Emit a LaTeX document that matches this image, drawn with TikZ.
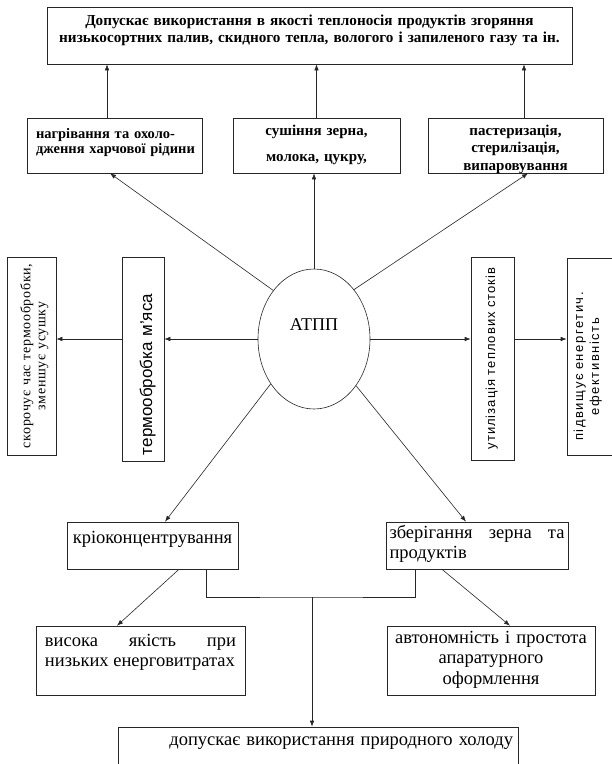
\documentclass[tikz,border=0pt]{standalone}
\usepackage{fontspec}
\setmainfont{Liberation Serif}
\setsansfont{Liberation Sans}
\usetikzlibrary{shapes.geometric, positioning, arrows.meta}

\begin{document}
\begin{tikzpicture}
	[x=1pt, y=-1pt, line width=0.6pt, >={Latex[length=6pt,width=4.5pt]},
	 box/.style={draw=black!85, rectangle, inner sep=0pt},
	 bbox/.style={box, font=\bfseries\fontsize{15}{15}\selectfont},
	 rbox/.style={box, font=\fontsize{18.5}{20}\selectfont},
	 vbox/.style={box, rotate=90},
	 link/.style={->, color=black!85}]
   \useasboundingbox (0,0) rectangle (612,764);
   % top row
   \node[bbox, minimum width=525pt, minimum height=57pt, text width=520pt, align=center,
         font=\bfseries\fontsize{15.2}{17.7}\selectfont, text height=12pt, text depth=33pt] (use) at (309.5,35.5)
         {Допускає використання в якості теплоносія продуктів згоряння\\\mbox{низькосортних палив, скидного тепла, вологого і запиленого газу та ін.}};
   \node[bbox, minimum width=175pt, minimum height=55pt, text width=157pt, inner xsep=9pt, align=left,
         font=\bfseries\fontsize{14.5}{15}\selectfont, text height=12pt, text depth=26.4pt] (heat) at (114.5,145.5)
         {нагрівання та охоло-\\\mbox{дження харчової рідини}};
   \node[bbox, minimum width=167pt, minimum height=55pt, text width=150pt, align=center,
         text height=12pt, text depth=33pt] (dry) at (316.5,145.5) {сушіння зерна,\\[11pt]молока, цукру,};
   \node[bbox, minimum width=175pt, minimum height=55pt, text width=160pt, align=center,
         font=\bfseries\fontsize{15}{17.5}\selectfont, text height=12pt, text depth=33pt] (past) at (515.5,145.5)
         {пастеризація,\\стерилізація,\\випаровування};
   % centre
   \node[draw=black!85, ellipse, minimum width=112pt, minimum height=140pt, inner sep=0pt,
         font=\fontsize{18}{20}\selectfont, text height=12pt, text depth=30pt] (atpp) at (314,339) {АТПП};
   \node[vbox, minimum width=204pt, minimum height=42pt, text width=192pt, inner xsep=6pt, align=left,
         font=\sffamily\fontsize{17}{19}\selectfont, text height=20pt, text depth=2pt] (meat) at (143,359) {термообробка м’яса};
   \node[vbox, minimum width=198pt, minimum height=49pt, text width=186pt, inner xsep=6pt, align=center,
         font=\fontsize{14}{15}\selectfont\addfontfeature{LetterSpace=5}, text height=10pt, text depth=12.4pt] (short) at (31.5,356)
         {скорочує час термообробки,\\зменшує усушку};
   \node[vbox, minimum width=203pt, minimum height=43pt, text width=191pt, inner xsep=6pt, align=center,
         font=\sffamily\fontsize{13}{15}\selectfont\addfontfeature{LetterSpace=8}, text height=10pt, text depth=5pt] (waste) at (492.5,358.5)
         {утилізація теплових стоків};
   \node[vbox, minimum width=197pt, minimum height=50pt, text width=185pt, inner xsep=6pt, align=center,
         font=\sffamily\fontsize{13}{16}\selectfont\addfontfeature{LetterSpace=12}, text height=10pt, text depth=28pt] (eff) at (592,356.5)
         {\hspace*{-20pt}підвищує енергетич.\\\hspace*{-20pt}ефективність};
   % bottom
   \node[rbox, minimum width=171pt, minimum height=47pt, text height=10pt, text depth=15pt] (crio) at (152.5,545.5) {кріоконцентрування};
   \node[rbox, minimum width=182pt, minimum height=47pt, text width=175pt, inner xsep=3.5pt, align=justify,
         text height=12pt, text depth=27pt] (store) at (477,545.5) {зберігання зерна та\linebreak продуктів};
   \node[rbox, minimum width=209pt, minimum height=69pt, text width=191pt, inner xsep=9pt, align=justify,
         text height=12pt, text depth=39.6pt] (high) at (140.5,660.5) {висока якість при\linebreak низьких енерговитратах};
   \node[rbox, minimum width=208pt, minimum height=69pt, text width=196pt, inner xsep=6pt, align=center,
         font=\fontsize{18.5}{20.5}\selectfont, text height=12pt, text depth=46.4pt] (auto) at (491,660.5)
         {автономність і простота\\апаратурного\\оформлення};
   \node[rbox, minimum width=400pt, minimum height=62pt, text width=390pt, inner xsep=5pt, align=right,
         text height=12pt, text depth=38pt] (cold) at (318,758) {допускає використання природного холоду};
   \coordinate (join) at (312,597);
    \path[link]
    ([xshift=-7.5pt]heat.north) edge ([xshift=-7.5pt]heat.north |- use.south)
    (dry.north) edge (dry.north |- use.south)
    ([xshift=8.5pt]past.north) edge ([xshift=8.5pt]past.north |- use.south)
    (atpp.130) edge ([xshift=-4.5pt]heat.south)
    (atpp.north) edge (atpp.north |- dry.south)
    (atpp.51) edge ([xshift=12.5pt]past.south)
    (atpp.west) edge (atpp.west -| meat.south)
    (atpp.west -| meat.north) edge (atpp.west -| short.south)
    (atpp.east) edge (atpp.east -| waste.north)
    (atpp.east -| waste.south) edge (atpp.east -| eff.north)
    (atpp.226) edge ([xshift=12.5pt]crio.north)
    (atpp.312) edge ([xshift=-11pt]store.north)
    ([xshift=26.5pt]crio.south) edge ([xshift=-23.5pt]high.north)
    ([xshift=-35pt]store.south) edge ([xshift=19pt]auto.north)
    (join) edge (join |- cold.north);
   \draw[draw=black!85] ([xshift=53.5pt]crio.south) |- (join) -| ([xshift=-62pt]store.south);
\end{tikzpicture}
\end{document}
